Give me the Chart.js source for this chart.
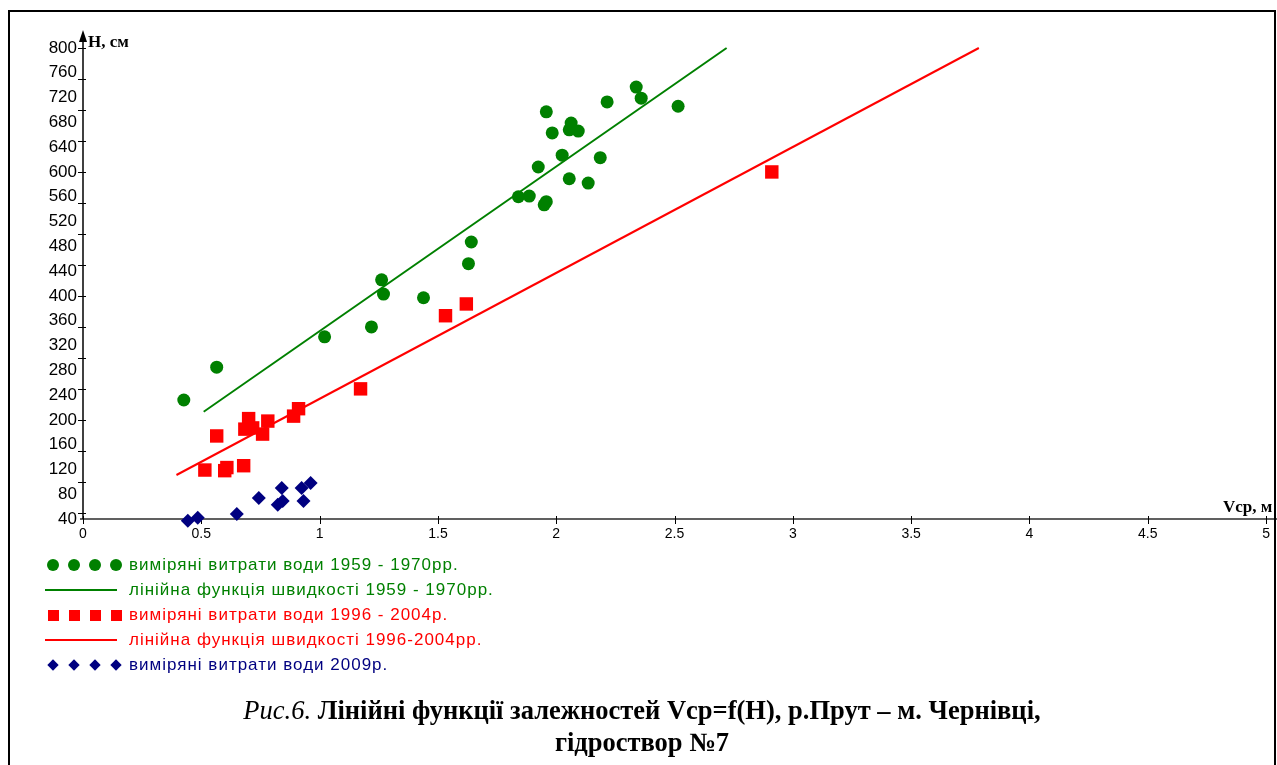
<!DOCTYPE html>
<html><head><meta charset="utf-8">
<script src="https://cdn.jsdelivr.net/npm/chart.js@4"></script>
<style>
html,body{margin:0;padding:0;background:#fff;}
#wrap{position:relative;width:1277px;height:765px;overflow:hidden;background:#fff;}
#c{position:absolute;left:0;top:0;}
#frame{position:absolute;left:8px;top:10px;width:1268px;height:770px;border:2px solid #000;box-sizing:border-box;pointer-events:none;}
.lg{position:absolute;white-space:nowrap;font-family:"Liberation Sans",Arial,sans-serif;font-size:17px;letter-spacing:1px;line-height:20px;}
.mk{position:absolute;}
#title{position:absolute;left:0;width:1284px;top:694px;text-align:center;font-family:"Liberation Serif","Times New Roman",serif;font-size:26.5px;line-height:32px;font-weight:bold;color:#000;}
#title i{font-weight:normal;}
</style>
</head><body>
<div id="wrap">
<canvas id="c" width="1277" height="765"></canvas>
<div id="legend"></div>
<div id="title"><i>Рис.6.</i> Лінійні функції залежностей Vср=f(H), р.Прут – м. Чернівці,<br>гідроствор №7</div>
<div id="frame"></div>
</div>
<script>
// ---- data ----
const labels = [
  'виміряні витрати води 1959 - 1970рр.',
  'лінійна функція швидкості 1959 - 1970рр.',
  'виміряні витрати води 1996 - 2004р.',
  'лінійна функція швидкості 1996-2004рр.',
  'виміряні витрати води 2009р.'
];
const greenX = [0.426,0.565,1.021,1.219,1.262,1.270,1.439,1.641,1.629,1.840,1.886,1.949,1.958,1.924,2.025,2.055,2.135,2.186,1.958,1.983,2.063,2.055,2.093,2.215,2.338,2.359,2.515];
const greenY = [232,285,334,350,426,403,397,487,452,560,561,547,552,608,627,589,582,623,697,663,679,668,666,713,737,719,706];
const greenLineX = [0.51, 2.72];
const greenLineY = [213, 800];
const redX = [0.515,0.565,0.599,0.608,0.679,0.700,0.684,0.717,0.759,0.781,0.890,0.911,1.173,1.532,1.620,2.911];
const redY = [119,174,118,123,126,202,185,187,177,198,206,218,250,368,387,600];
const redLineX = [0.395, 3.786];
const redLineY = [111, 800];
const blueX = [0.443,0.485,0.650,0.743,0.840,0.823,0.844,0.924,0.962,0.932];
const blueY = [37,42,48,74,90,63,69,90,98,69];
const xTickMarks = [0,0.5,1,1.5,2,2.5,3,3.5,4,4.5,5];
const yTickMarks = [50,100,150,200,250,300,350,400,450,500,550,600,650,700,750,800];
const xAxisTitle = 'Vср, м';
const yAxisTitle = 'H, см';
const colors = ['#008000','#008000','#ff0000','#ff0000','#000080'];

const pts = (xs, ys) => xs.map((x, i) => ({x, y: ys[i]}));

const axesPlugin = {
  id: 'axes',
  beforeDatasetsDraw(chart) {
    const {ctx, scales: {x, y}} = chart;
    const x0 = x.getPixelForValue(0), y0 = y.getPixelForValue(40), yTop = y.getPixelForValue(800);
    ctx.save();
    // x axis
    ctx.strokeStyle = '#606060'; ctx.lineWidth = 2;
    ctx.beginPath(); ctx.moveTo(x0 - 3, y0); ctx.lineTo(chart.width, y0); ctx.stroke();
    ctx.strokeStyle = '#000'; ctx.lineWidth = 1;
    for (const v of xTickMarks) {
      const px = Math.round(x.getPixelForValue(v)) + 0.5;
      ctx.beginPath(); ctx.moveTo(px, y0 - 3); ctx.lineTo(px, y0 + 5); ctx.stroke();
    }
    // y axis
    ctx.lineWidth = 1.5;
    ctx.beginPath(); ctx.moveTo(x0, y0); ctx.lineTo(x0, yTop - 8); ctx.stroke();
    ctx.fillStyle = '#000';
    ctx.beginPath(); ctx.moveTo(x0 - 4, yTop - 6); ctx.lineTo(x0 + 4, yTop - 6); ctx.lineTo(x0, yTop - 18); ctx.closePath(); ctx.fill();
    ctx.lineWidth = 1;
    for (const v of yTickMarks) {
      const py = Math.round(y.getPixelForValue(v)) + 0.5;
      ctx.beginPath(); ctx.moveTo(x0 - 5, py); ctx.lineTo(x0 + 3, py); ctx.stroke();
    }
    // axis titles
    ctx.textBaseline = 'middle'; ctx.textAlign = 'left';
    ctx.font = 'bold 17px "Liberation Serif"';
    ctx.fillText(yAxisTitle, x0 + 5, yTop - 5);
    ctx.font = 'bold 17px "Liberation Serif"';
    ctx.fillText(xAxisTitle, 1223, y0 - 11);
    ctx.restore();
  }
};

const chart = new Chart(document.getElementById('c'), {
  type: 'scatter',
  data: {datasets: [
    {label: labels[0], data: pts(greenX, greenY), pointStyle: 'circle', pointRadius: 6.5, pointBorderWidth: 0, backgroundColor: colors[0], borderColor: colors[0], order: 2, clip: false},
    {label: labels[1], data: pts(greenLineX, greenLineY), showLine: true, pointRadius: 0, borderColor: colors[1], borderWidth: 2, order: 0, clip: false},
    {label: labels[2], data: pts(redX, redY), pointStyle: 'rect', pointRadius: 9.5, pointBorderWidth: 0, backgroundColor: colors[2], borderColor: colors[2], order: 2, clip: false},
    {label: labels[3], data: pts(redLineX, redLineY), showLine: true, pointRadius: 0, borderColor: colors[3], borderWidth: 2, order: 0, clip: false},
    {label: labels[4], data: pts(blueX, blueY), pointStyle: 'rectRot', pointRadius: 7, pointBorderWidth: 0, backgroundColor: colors[4], borderColor: colors[4], order: 1, clip: false}
  ]},
  options: {
    responsive: false, animation: false, devicePixelRatio: 1,
    layout: {padding: {left: 0, top: 48, right: 6, bottom: 0}},
    plugins: {legend: {display: false}, tooltip: {enabled: false}},
    scales: {
      x: {type: 'linear', min: 0, max: 5,
        ticks: {stepSize: 0.5, autoSkip: false, maxRotation: 0, padding: 7, color: '#000',
          font: {family: '"Liberation Sans"', size: 14}, callback: v => String(v)},
        grid: {display: false, drawTicks: false}, border: {display: false},
        afterFit(s) { s.height = 246; }},
      y: {type: 'linear', min: 40, max: 800,
        ticks: {stepSize: 40, autoSkip: false, padding: 6, color: '#000',
          font: {family: '"Liberation Sans"', size: 17}, callback: v => String(v)},
        grid: {display: false, drawTicks: false}, border: {display: false},
        afterFit(s) { s.width = 83; }}
    }
  },
  plugins: [axesPlugin]
});

// ---- HTML legend built from the chart datasets ----
const legend = document.getElementById('legend');
const rowY = [565, 590, 615, 640, 665];
const mkX = [53, 74, 95, 116];
chart.data.datasets.forEach((ds, i) => {
  const cy = rowY[i], col = ds.borderColor;
  if (ds.showLine) {
    const d = document.createElement('div');
    d.className = 'mk';
    d.style.cssText = `left:45px;top:${cy - 1}px;width:72px;height:2px;background:${col}`;
    legend.appendChild(d);
  } else {
    mkX.forEach(cx => {
      const d = document.createElement('div');
      d.className = 'mk';
      if (ds.pointStyle === 'circle') d.style.cssText = `left:${cx-6}px;top:${cy-6}px;width:12px;height:12px;border-radius:50%;background:${col}`;
      else if (ds.pointStyle === 'rect') d.style.cssText = `left:${cx-5.5}px;top:${cy-5.5}px;width:11px;height:11px;background:${col}`;
      else d.style.cssText = `left:${cx-4}px;top:${cy-4}px;width:8px;height:8px;background:${col};transform:rotate(45deg)`;
      legend.appendChild(d);
    });
  }
  const t = document.createElement('div');
  t.className = 'lg';
  t.style.cssText = `left:129px;top:${cy - 10}px;color:${col}`;
  t.textContent = ds.label;
  legend.appendChild(t);
});
</script>
</body></html>
